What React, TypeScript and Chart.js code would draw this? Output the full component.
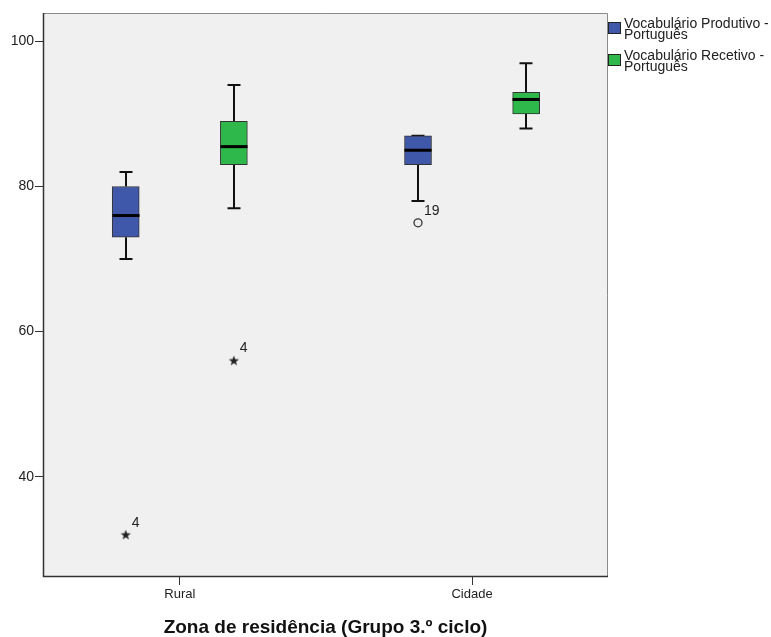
import React, { useEffect, useRef } from 'react';
import { Chart, registerables } from 'chart.js';
Chart.register(...registerables);

// ---------- data ----------
const categories = ['Rural', 'Cidade'];
const legendLines = [
  ['Vocabulário Produtivo -', 'Português'],
  ['Vocabulário Recetivo -', 'Português'],
];
const seriesColors = ['#3f58a9', '#2eb74a'];

// Vocabulário Produtivo (per category)
const prodMin = [70, 78];
const prodQ1 = [73, 83];
const prodMedian = [76, 85];
const prodQ3 = [80, 87];
const prodMax = [82, 87];

// Vocabulário Recetivo (per category)
const recMin = [77, 88];
const recQ1 = [83, 90];
const recMedian = [85.5, 92];
const recQ3 = [89, 93];
const recMax = [94, 97];

// outliers
const outlierSeries = [0, 1, 0];
const outlierCategory = [0, 0, 1];
const outlierValues = [32, 56, 75];
const outlierLabels = ['4', '4', '19'];
const outlierIsExtreme = [true, true, false];

const yTicks = [40, 60, 80, 100];
const xTitle = 'Zona de residência (Grupo 3.º ciclo)';

// ---------- layout / style ----------
const W = 771;
const H = 637;
const seriesOffsets = [-0.185, 0.185];
const BOX_W = 27;
const CAP_W = 13;
const FONT = '"Liberation Sans", Arial, sans-serif';

const stats = [
  { min: prodMin, q1: prodQ1, med: prodMedian, q3: prodQ3, max: prodMax },
  { min: recMin, q1: recQ1, med: recMedian, q3: recQ3, max: recMax },
];

function makeStar(): HTMLCanvasElement {
  const c = document.createElement('canvas');
  c.width = 12;
  c.height = 12;
  const g = c.getContext('2d')!;
  g.fillStyle = '#222';
  g.beginPath();
  const cx = 6, cy = 6.4, ro = 5.4, ri = 2.2;
  for (let k = 0; k < 10; k++) {
    const r = k % 2 === 0 ? ro : ri;
    const a = -Math.PI / 2 + (k * Math.PI) / 5;
    const px = cx + r * Math.cos(a);
    const py = cy + r * Math.sin(a);
    if (k === 0) g.moveTo(px, py);
    else g.lineTo(px, py);
  }
  g.closePath();
  g.fill();
  return c;
}

const boxPlugin = {
  id: 'boxExtras',
  beforeDraw(chart: any) {
    const { ctx, chartArea: a } = chart;
    ctx.save();
    ctx.fillStyle = '#ffffff';
    ctx.fillRect(0, 0, chart.width, chart.height);
    ctx.fillStyle = '#f0f0f0';
    ctx.fillRect(a.left, a.top, a.right - a.left, a.bottom - a.top);
    ctx.restore();
  },
  beforeDatasetsDraw(chart: any) {
    const { ctx } = chart;
    const xs = chart.scales.x;
    const ys = chart.scales.y;
    ctx.save();
    ctx.strokeStyle = '#111';
    ctx.lineWidth = 2;
    stats.forEach((st, s) => {
      categories.forEach((_, i) => {
        const x = Math.round(xs.getPixelForValue(i + seriesOffsets[s]));
        const yMin = ys.getPixelForValue(st.min[i]);
        const yQ1 = ys.getPixelForValue(st.q1[i]);
        const yQ3 = ys.getPixelForValue(st.q3[i]);
        const yMax = ys.getPixelForValue(st.max[i]);
        ctx.beginPath();
        ctx.moveTo(x, yQ1);
        ctx.lineTo(x, yMin);
        ctx.moveTo(x, yQ3);
        ctx.lineTo(x, yMax);
        ctx.moveTo(x - CAP_W / 2, yMin);
        ctx.lineTo(x + CAP_W / 2, yMin);
        ctx.moveTo(x - CAP_W / 2, yMax);
        ctx.lineTo(x + CAP_W / 2, yMax);
        ctx.stroke();
      });
    });
    ctx.restore();
  },
  afterDatasetsDraw(chart: any) {
    const { ctx, chartArea: a } = chart;
    const xs = chart.scales.x;
    const ys = chart.scales.y;
    ctx.save();
    // medians
    ctx.strokeStyle = '#000';
    ctx.lineWidth = 3;
    stats.forEach((st, s) => {
      categories.forEach((_, i) => {
        const x = Math.round(xs.getPixelForValue(i + seriesOffsets[s]));
        const y = ys.getPixelForValue(st.med[i]);
        ctx.beginPath();
        ctx.moveTo(x - BOX_W / 2, y);
        ctx.lineTo(x + BOX_W / 2, y);
        ctx.stroke();
      });
    });
    // outlier labels
    ctx.fillStyle = '#222';
    ctx.font = `14px ${FONT}`;
    ctx.textAlign = 'left';
    ctx.textBaseline = 'middle';
    outlierValues.forEach((v, k) => {
      const x = xs.getPixelForValue(outlierCategory[k] + seriesOffsets[outlierSeries[k]]);
      const y = ys.getPixelForValue(v);
      ctx.fillText(outlierLabels[k], x + 6, y - 12);
    });
    // frame
    ctx.lineWidth = 1;
    ctx.strokeStyle = '#8a8a8a';
    ctx.beginPath();
    ctx.moveTo(a.left, a.top + 0.5);
    ctx.lineTo(a.right - 0.5, a.top + 0.5);
    ctx.lineTo(a.right - 0.5, a.bottom);
    ctx.stroke();
    ctx.strokeStyle = '#333';
    ctx.lineWidth = 1.5;
    ctx.beginPath();
    ctx.moveTo(a.left + 0.5, a.top);
    ctx.lineTo(a.left + 0.5, a.bottom - 0.5);
    ctx.lineTo(a.right, a.bottom - 0.5);
    ctx.stroke();
    ctx.restore();
  },
  afterDraw(chart: any) {
    const { ctx } = chart;
    ctx.save();
    ctx.font = `14px ${FONT}`;
    ctx.textAlign = 'left';
    ctx.textBaseline = 'middle';
    legendLines.forEach((lines, s) => {
      const top = 22 + s * 32;
      ctx.fillStyle = seriesColors[s];
      ctx.fillRect(608, top, 13, 12);
      ctx.strokeStyle = '#222';
      ctx.lineWidth = 1;
      ctx.strokeRect(608.5, top + 0.5, 12, 11);
      ctx.fillStyle = '#222';
      lines.forEach((t, j) => {
        ctx.fillText(t, 624, top + 2 + j * 11);
      });
    });
    ctx.restore();
  },
};

export default function App() {
  const ref = useRef<HTMLCanvasElement>(null);
  useEffect(() => {
    const canvas = ref.current!;
    const star = makeStar();
    const boxDatasets = stats.map((st, s) => ({
      type: 'bar' as const,
      label: legendLines[s].join(' '),
      data: categories.map((_, i) => ({ x: i + seriesOffsets[s], y: [st.q1[i], st.q3[i]] })),
      backgroundColor: seriesColors[s],
      borderColor: '#333',
      borderWidth: 1,
      borderSkipped: false,
      barThickness: BOX_W,
      grouped: false,
    }));
    const extremeIdx = outlierValues.map((_, k) => k).filter((k) => outlierIsExtreme[k]);
    const outIdx = outlierValues.map((_, k) => k).filter((k) => !outlierIsExtreme[k]);
    const toPoint = (k: number) => ({
      x: outlierCategory[k] + seriesOffsets[outlierSeries[k]],
      y: outlierValues[k],
    });
    const chart = new Chart(canvas, {
      type: 'bar',
      data: {
        datasets: [
          ...boxDatasets,
          {
            type: 'scatter' as const,
            label: 'extremes',
            data: extremeIdx.map(toPoint),
            pointStyle: star,
            pointRadius: 6,
          },
          {
            type: 'scatter' as const,
            label: 'outliers',
            data: outIdx.map(toPoint),
            pointStyle: 'circle',
            pointRadius: 4,
            borderColor: '#333',
            borderWidth: 1.3,
            backgroundColor: 'rgba(0,0,0,0)',
          },
        ] as any,
      },
      options: {
        animation: false,
        responsive: false,
        devicePixelRatio: 1,
        events: [],
        layout: { padding: { left: 0, top: 13, right: 163, bottom: 0 } },
        plugins: { legend: { display: false }, tooltip: { enabled: false } },
        scales: {
          x: {
            type: 'linear',
            offset: false,
            min: -0.468,
            max: 1.465,
            afterBuildTicks: (sc: any) => {
              sc.ticks = categories.map((_, i) => ({ value: i }));
            },
            afterFit: (sc: any) => {
              sc.height = 60;
            },
            ticks: {
              autoSkip: false,
              maxRotation: 0,
              padding: 2,
              color: '#222',
              font: { family: FONT, size: 13 },
              callback: (v: any) => categories[Math.round(Number(v))] ?? '',
            },
            grid: { display: true, offset: false, drawOnChartArea: false, drawTicks: true, tickLength: 8, color: '#333' },
            border: { display: false },
            title: {
              display: true,
              text: xTitle,
              color: '#111',
              padding: { top: 0, bottom: 0 },
              font: { family: FONT, size: 19, weight: 'bold', lineHeight: 1 },
            },
          },
          y: {
            type: 'linear',
            min: 26.17,
            max: 103.92,
            afterBuildTicks: (sc: any) => {
              sc.ticks = yTicks.map((v) => ({ value: v }));
            },
            afterFit: (sc: any) => {
              sc.width = 43;
            },
            ticks: {
              padding: 1,
              color: '#222',
              font: { family: FONT, size: 14 },
            },
            grid: { display: true, drawOnChartArea: false, drawTicks: true, tickLength: 8, color: '#333' },
            border: { display: false },
          },
        },
      } as any,
      plugins: [boxPlugin],
    });
    return () => chart.destroy();
  }, []);
  return (
    <div style={{ position: 'fixed', left: 0, top: 0, width: W, height: H, background: '#fff' }}>
      <canvas ref={ref} width={W} height={H} style={{ display: 'block' }} />
    </div>
  );
}
